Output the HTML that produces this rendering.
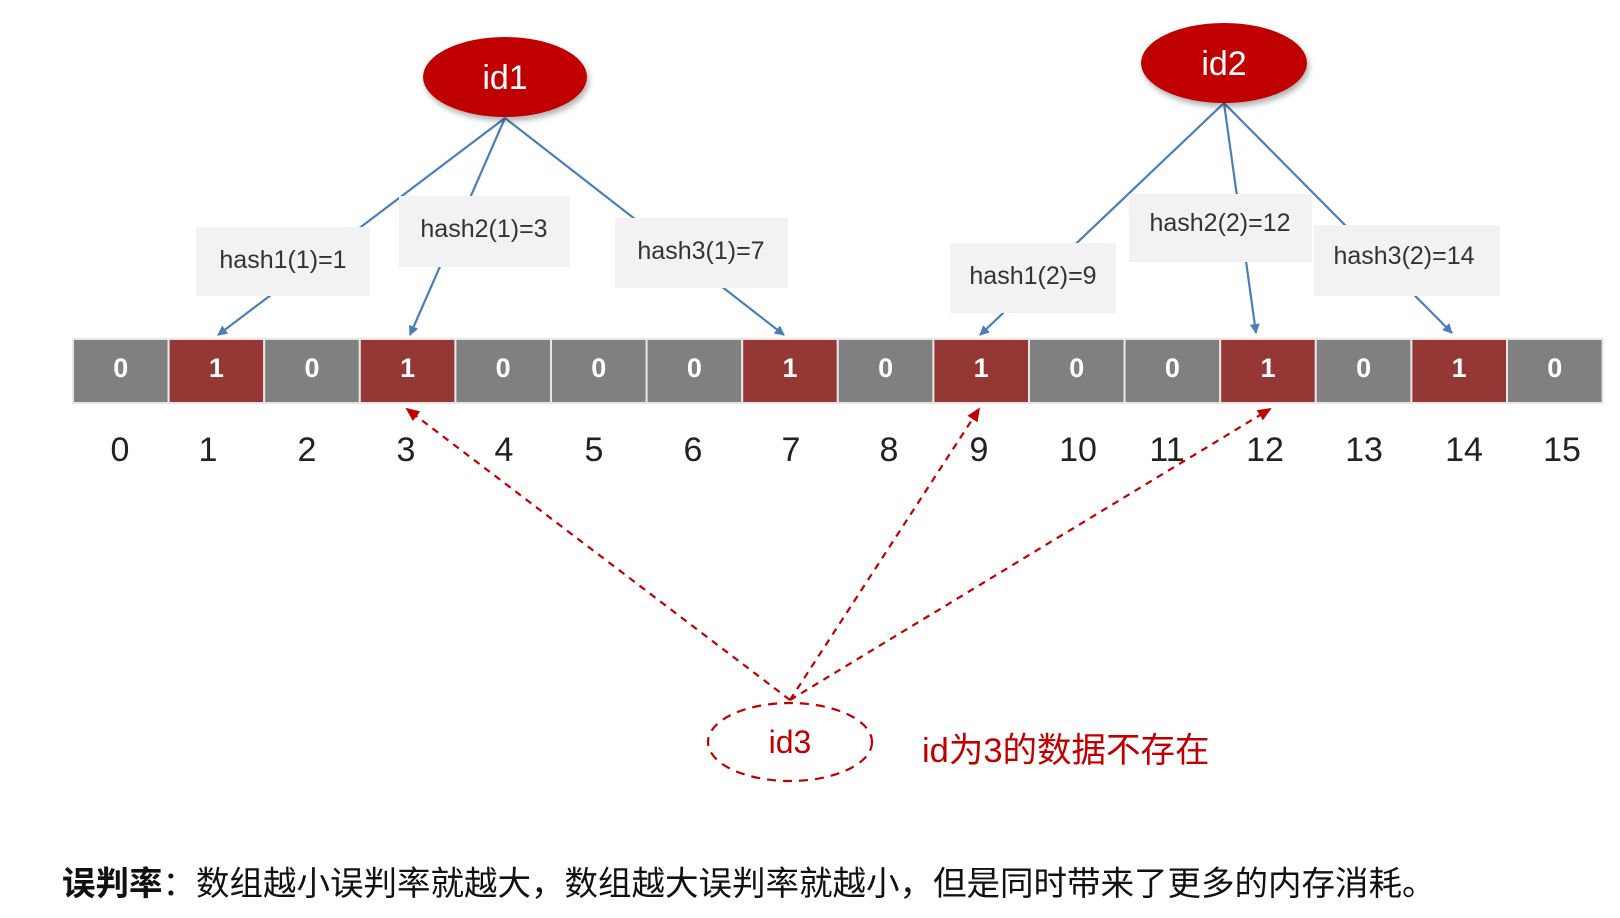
<!DOCTYPE html>
<html><head><meta charset="utf-8"><style>
html,body{margin:0;padding:0;background:#fff;width:1620px;height:918px;overflow:hidden}
svg{display:block}
text{font-family:"Liberation Sans","Noto Sans CJK SC",sans-serif}
</style></head><body>
<svg width="1620" height="918" viewBox="0 0 1620 918" xmlns="http://www.w3.org/2000/svg">
<defs>
<marker id="ab" markerWidth="10" markerHeight="10" refX="9" refY="5" orient="auto" markerUnits="userSpaceOnUse"><path d="M0,0 L10,5 L0,10 z" fill="#4a7ebb"/></marker>
<marker id="ar" markerWidth="14" markerHeight="12" refX="12" refY="6" orient="auto" markerUnits="userSpaceOnUse"><path d="M0,0 L14,6 L0,12 z" fill="#c00000"/></marker>
<filter id="sh" x="-20%" y="-20%" width="140%" height="150%"><feDropShadow dx="2" dy="4" stdDeviation="3" flood-color="#000" flood-opacity="0.3"/></filter>
</defs>
<g stroke="#4a7ebb" stroke-width="2.2" fill="none" marker-end="url(#ab)">
<line x1="505" y1="118" x2="218" y2="335"/>
<line x1="505" y1="118" x2="410" y2="335"/>
<line x1="505" y1="118" x2="784" y2="335"/>
<line x1="1224" y1="103" x2="980" y2="335"/>
<line x1="1224" y1="103" x2="1256" y2="333"/>
<line x1="1224" y1="103" x2="1452" y2="333"/>
</g>
<g fill="#f2f2f2">
<rect x="196" y="227" width="174" height="69"/>
<rect x="399" y="196" width="171" height="71"/>
<rect x="615" y="218" width="173" height="70"/>
<rect x="950" y="243" width="166" height="70"/>
<rect x="1129" y="194" width="183" height="68"/>
<rect x="1314" y="225" width="186" height="71"/>
</g>
<g font-size="25" fill="#333" text-anchor="middle">
<text x="283" y="268">hash1(1)=1</text>
<text x="484" y="237">hash2(1)=3</text>
<text x="701" y="259">hash3(1)=7</text>
<text x="1033" y="284">hash1(2)=9</text>
<text x="1220" y="231">hash2(2)=12</text>
<text x="1404" y="264">hash3(2)=14</text>
</g>
<ellipse cx="505" cy="77" rx="82" ry="40" fill="#c00000" filter="url(#sh)"/>
<ellipse cx="1224" cy="63" rx="83" ry="40" fill="#c00000" filter="url(#sh)"/>
<text x="505" y="89" font-size="34" fill="#fff" text-anchor="middle">id1</text>
<text x="1224" y="75" font-size="34" fill="#fff" text-anchor="middle">id2</text>
<g stroke="#e6e6e6" stroke-width="2">
<rect x="73" y="339" width="95.6" height="64" fill="#808080"/>
<rect x="168.6" y="339" width="95.6" height="64" fill="#953735"/>
<rect x="264.2" y="339" width="95.6" height="64" fill="#808080"/>
<rect x="359.8" y="339" width="95.6" height="64" fill="#953735"/>
<rect x="455.4" y="339" width="95.6" height="64" fill="#808080"/>
<rect x="551" y="339" width="95.6" height="64" fill="#808080"/>
<rect x="646.6" y="339" width="95.6" height="64" fill="#808080"/>
<rect x="742.2" y="339" width="95.6" height="64" fill="#953735"/>
<rect x="837.8" y="339" width="95.6" height="64" fill="#808080"/>
<rect x="933.4" y="339" width="95.6" height="64" fill="#953735"/>
<rect x="1029" y="339" width="95.6" height="64" fill="#808080"/>
<rect x="1124.6" y="339" width="95.6" height="64" fill="#808080"/>
<rect x="1220.2" y="339" width="95.6" height="64" fill="#953735"/>
<rect x="1315.8" y="339" width="95.6" height="64" fill="#808080"/>
<rect x="1411.4" y="339" width="95.6" height="64" fill="#953735"/>
<rect x="1507" y="339" width="95.6" height="64" fill="#808080"/>
</g>
<g font-size="27" font-weight="bold" fill="#fff" text-anchor="middle">
<text x="120.8" y="377">0</text><text x="216.4" y="377">1</text><text x="312" y="377">0</text><text x="407.6" y="377">1</text>
<text x="503.2" y="377">0</text><text x="598.8" y="377">0</text><text x="694.4" y="377">0</text><text x="790" y="377">1</text>
<text x="885.6" y="377">0</text><text x="981.2" y="377">1</text><text x="1076.8" y="377">0</text><text x="1172.4" y="377">0</text>
<text x="1268" y="377">1</text><text x="1363.6" y="377">0</text><text x="1459.2" y="377">1</text><text x="1554.8" y="377">0</text>
</g>
<g font-size="34" fill="#222" text-anchor="middle">
<text x="120" y="461">0</text><text x="208" y="461">1</text><text x="307" y="461">2</text><text x="406" y="461">3</text>
<text x="504" y="461">4</text><text x="594" y="461">5</text><text x="693" y="461">6</text><text x="791" y="461">7</text>
<text x="889" y="461">8</text><text x="979" y="461">9</text><text x="1078" y="461">10</text><text x="1167" y="461">11</text>
<text x="1265" y="461">12</text><text x="1364" y="461">13</text><text x="1464" y="461">14</text><text x="1562" y="461">15</text>
</g>
<g stroke="#c00000" stroke-width="2.2" stroke-dasharray="7,6" fill="none" marker-end="url(#ar)">
<line x1="790" y1="700" x2="407" y2="409"/>
<line x1="790" y1="700" x2="979" y2="409"/>
<line x1="790" y1="700" x2="1270" y2="409"/>
</g>
<ellipse cx="790" cy="742" rx="82" ry="39" fill="none" stroke="#c00000" stroke-width="2.2" stroke-dasharray="9,7"/>
<text x="790" y="753" font-size="32" fill="#c00000" text-anchor="middle">id3</text>
<text x="922" y="762" font-size="34.5" fill="#c00000">id为3的数据不存在</text>
<text x="62" y="895" font-size="33.5" fill="#111"><tspan font-weight="bold">误判率</tspan>：数组越小误判率就越大，数组越大误判率就越小，但是同时带来了更多的内存消耗。</text>
</svg>
</body></html>
